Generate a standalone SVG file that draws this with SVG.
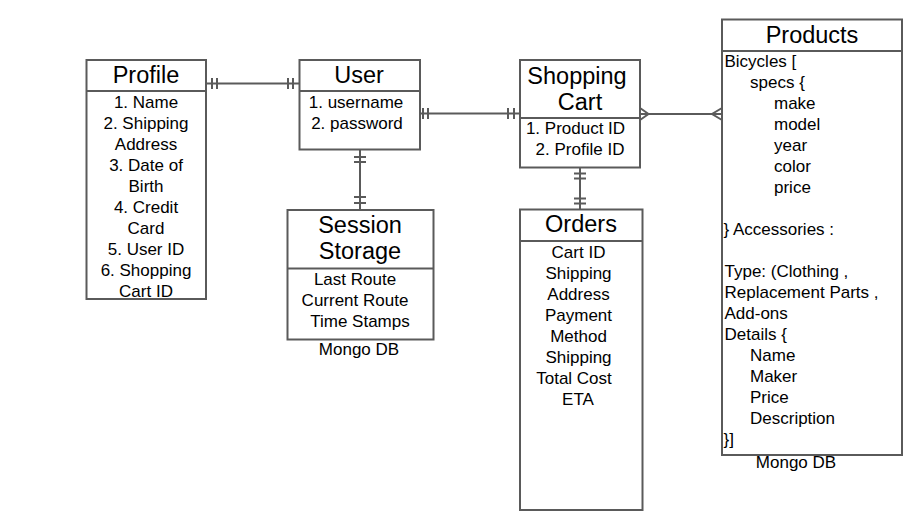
<svg xmlns="http://www.w3.org/2000/svg" width="924" height="530" viewBox="0 0 924 530">
<style>
.box{fill:#fff;stroke:#5a5a5a;stroke-width:2}
.ln{fill:none;stroke:#5a5a5a;stroke-width:2}
.t{font-family:"Liberation Sans",Arial,sans-serif;font-size:23.5px;fill:#000;text-anchor:middle}
.b{font-family:"Liberation Sans",Arial,sans-serif;font-size:17px;fill:#000;text-anchor:middle}
.l{font-family:"Liberation Sans",Arial,sans-serif;font-size:17px;fill:#000}
</style>
<rect width="924" height="530" fill="#fff"/>
<g id="connectors">
<path class="ln" d="M206 83.5H299M212 78v11M217 78v11M288 78v11M293 78v11"/>
<path class="ln" d="M360 149.5V210M354 157h12M354 162h12M354 197h12M354 203h12"/>
<path class="ln" d="M420 113.5H520M423 108v11M428 108v11M508 108v11M514 108v11"/>
<path class="ln" d="M580 167.5V209.5M574 173.5h12M574 178.5h12M574 198.5h12M574 203.5h12"/>
<path class="ln" d="M640 114H722M640 108L648.5 114L640 120M722 108L712 114L722 120"/>
</g>
<g id="profile">
<rect class="box" x="86.5" y="60" width="119.5" height="239"/>
<path class="ln" d="M86.5 91H206"/>
<text class="t" x="146" y="82.5">Profile</text>
<text class="b" x="146" y="108">1. Name</text>
<text class="b" x="146" y="129">2. Shipping</text>
<text class="b" x="146" y="150">Address</text>
<text class="b" x="146" y="171">3. Date of</text>
<text class="b" x="146" y="192">Birth</text>
<text class="b" x="146" y="213">4. Credit</text>
<text class="b" x="146" y="234">Card</text>
<text class="b" x="146" y="255">5. User ID</text>
<text class="b" x="146" y="276">6. Shopping</text>
<text class="b" x="146" y="297">Cart ID</text>
</g>
<g id="user">
<rect class="box" x="299.5" y="60" width="120.5" height="89.5"/>
<path class="ln" d="M299.5 91H420"/>
<text class="t" x="359" y="82.5">User</text>
<text class="b" x="356" y="108">1. username</text>
<text class="b" x="357" y="129">2. password</text>
</g>
<g id="session">
<rect class="box" x="287.5" y="210" width="146" height="129.5"/>
<path class="ln" d="M287.5 268.5H433.5"/>
<text class="t" x="360" y="233">Session</text>
<text class="t" x="360" y="259">Storage</text>
<text class="b" x="355" y="285">Last Route</text>
<text class="b" x="355" y="306">Current Route</text>
<text class="b" x="360" y="327">Time Stamps</text>
<text class="b" x="359" y="355">Mongo DB</text>
</g>
<g id="cart">
<rect class="box" x="520" y="60" width="120" height="107.5"/>
<path class="ln" d="M520 118H640"/>
<text class="t" x="577" y="83.5">Shopping</text>
<text class="t" x="580" y="109.5">Cart</text>
<text class="b" x="575.5" y="134">1. Product ID</text>
<text class="b" x="580" y="155">2. Profile ID</text>
</g>
<g id="orders">
<rect class="box" x="520" y="209.5" width="122.5" height="300.5"/>
<path class="ln" d="M520 241H642.5"/>
<text class="t" x="581" y="232">Orders</text>
<text class="b" x="578.5" y="258">Cart ID</text>
<text class="b" x="578.5" y="279">Shipping</text>
<text class="b" x="578.5" y="300">Address</text>
<text class="b" x="578.5" y="321">Payment</text>
<text class="b" x="578.5" y="342">Method</text>
<text class="b" x="578.5" y="363">Shipping</text>
<text class="b" x="574" y="384">Total Cost</text>
<text class="b" x="578" y="405">ETA</text>
</g>
<g id="products">
<rect class="box" x="722" y="19.5" width="180" height="435.5"/>
<path class="ln" d="M722 51H902"/>
<text class="t" x="812" y="42.5">Products</text>
<text class="l" x="724.5" y="67">Bicycles [</text>
<text class="l" x="750" y="88">specs {</text>
<text class="l" x="774" y="109">make</text>
<text class="l" x="774" y="130">model</text>
<text class="l" x="774" y="151">year</text>
<text class="l" x="774" y="172">color</text>
<text class="l" x="774" y="193">price</text>
<text class="l" x="723.5" y="235">} Accessories :</text>
<text class="l" x="724.5" y="277">Type: (Clothing ,</text>
<text class="l" x="724.5" y="298">Replacement Parts ,</text>
<text class="l" x="724.5" y="319">Add-ons</text>
<text class="l" x="724.5" y="340">Details {</text>
<text class="l" x="750" y="361">Name</text>
<text class="l" x="750" y="382">Maker</text>
<text class="l" x="750" y="403">Price</text>
<text class="l" x="750" y="424">Description</text>
<text class="l" x="723.5" y="445">}]</text>
<text class="b" x="796" y="468">Mongo DB</text>
</g>
</svg>
